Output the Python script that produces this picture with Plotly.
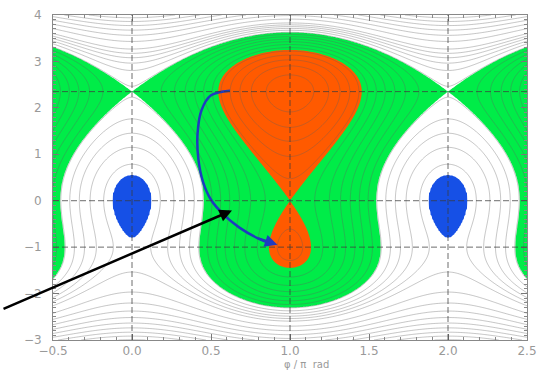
import numpy as np
import plotly.graph_objects as go

# ---- model parameters ----
Y_FIXED = [-1.0, 0.0, 2.35]      # momentum-like positions of fixed points
AMP = 5.5                        # potential amplitude
BLUE_LEVEL = 5.08                # boundary of blue island
BLUE_WINDOW = [-1.0, 1.5]        # y window containing the blue islands
X_RANGE = [-0.5, 2.5]
Y_RANGE = [-3.0, 4.0]
X_TICKS = [-0.5, 0.0, 0.5, 1.0, 1.5, 2.0, 2.5]
Y_TICKS = [-3, -2, -1, 0, 1, 2, 3, 4]
X_LINES = [0.0, 1.0, 2.0]
Y_LINES = [-1.0, 0.0, 2.35]

# blue trajectory (x, y)
PATH_X = [0.62, 0.50, 0.44, 0.415, 0.42, 0.45, 0.50, 0.58, 0.68, 0.79, 0.86, 0.92]
PATH_Y = [2.37, 2.27, 1.95, 1.45, 0.90, 0.40, 0.02, -0.30, -0.58, -0.80, -0.90, -0.95]

# black pointer arrow head (data) and tail offset (pixels)
POINTER_HEAD = [0.633, -0.21]
POINTER_TAIL_PX = [-230, 99]

ORANGE = "#FF5A00"
GREEN = "#00EC48"
BLUE = "#1650E6"
WHITE = "#FFFFFF"

# ---- Hamiltonian on grid ----
x = np.linspace(X_RANGE[0], X_RANGE[1], 301)
y = np.linspace(Y_RANGE[0], Y_RANGE[1], 351)
X, Y = np.meshgrid(x, y)

dK = np.poly(Y_FIXED)           # K'(y) coefficients
Kp = np.polyint(dK)
K = lambda v: np.polyval(Kp, v)
H = K(Y) + AMP * np.cos(np.pi * X)

L_OR = K(Y_FIXED[1]) - AMP       # separatrix through X-point (1, 0)
L_GR = K(Y_FIXED[2]) + AMP       # separatrix through X-point (0, 2.35)
inside = (Y > BLUE_WINDOW[0]) & (Y < BLUE_WINDOW[1])
H_fill = np.where(inside, H, np.minimum(H, L_GR + 1.0))
hmin, hmax = H.min(), H.max()
T = np.interp(H_fill, [hmin - 1, L_OR, L_GR, BLUE_LEVEL, hmax + 1], [0, 1, 2, 3, 4])

# line field: denser at low energies
G = np.where(H <= 5.5, H, 5.5 + (H - 5.5) / 2.5)

fig = go.Figure()
fig.add_trace(go.Contour(
    x=x, y=y, z=T, autocontour=False,
    contours=dict(start=1, end=3, size=1, coloring="fill", showlines=False),
    colorscale=[[0, ORANGE], [0.2, ORANGE], [0.2, GREEN], [0.5, GREEN],
                [0.5, WHITE], [0.8, WHITE], [0.8, BLUE], [1, BLUE]],
    showscale=False, line=dict(width=0), hoverinfo="skip"))
fig.add_trace(go.Contour(
    x=x, y=y, z=G, autocontour=False,
    contours=dict(start=-9.6, end=20, size=0.95, coloring="lines"),
    colorscale=[[0, "rgba(95,95,95,0.45)"], [1, "rgba(95,95,95,0.45)"]],
    line=dict(width=0.8), showscale=False, hoverinfo="skip"))

shapes = []
for xv in X_LINES:
    shapes.append(dict(type="line", xref="x", yref="paper", x0=xv, x1=xv, y0=0, y1=1,
                       line=dict(color="rgba(60,60,60,0.75)", width=1, dash="6px,3px")))
for yv in Y_LINES:
    shapes.append(dict(type="line", xref="paper", yref="y", x0=0, x1=1, y0=yv, y1=yv,
                       line=dict(color="rgba(60,60,60,0.75)", width=1, dash="6px,3px")))

fig.add_trace(go.Scatter(x=PATH_X[:-1], y=PATH_Y[:-1], mode="lines",
                         line=dict(color="#1E3CC0", width=2.5, shape="spline", smoothing=1.0),
                         hoverinfo="skip", showlegend=False))

annotations = [
    dict(x=PATH_X[-1], y=PATH_Y[-1], ax=PATH_X[-3], ay=PATH_Y[-3], xref="x", yref="y",
         axref="x", ayref="y", showarrow=True, arrowhead=2, arrowsize=1, arrowwidth=2.5,
         arrowcolor="#1E3CC0", text=""),
    dict(x=POINTER_HEAD[0], y=POINTER_HEAD[1], ax=POINTER_TAIL_PX[0], ay=POINTER_TAIL_PX[1],
         xref="x", yref="y", showarrow=True, arrowhead=2, arrowsize=1, arrowwidth=2.5,
         arrowcolor="black", text=""),
    dict(x=0.535, y=-0.074, xref="paper", yref="paper", showarrow=False,
         text="φ / π  rad", font=dict(size=10, color="#999999", family="DejaVu Sans"),
         yanchor="middle"),
]

axis_common = dict(showgrid=False, zeroline=False, showline=True, mirror="allticks",
                   linecolor="#888888", linewidth=1, ticks="inside", ticklen=6,
                   tickcolor="#777777",
                   tickfont=dict(size=12, color="#999999", family="DejaVu Sans"))

fig.update_layout(
    width=552, height=372, margin=dict(l=53, r=25, t=8, b=32),
    paper_bgcolor="white", plot_bgcolor="white", showlegend=False,
    shapes=shapes, annotations=annotations,
    xaxis=dict(range=X_RANGE, tickvals=X_TICKS, ticktext=[f"{v:.1f}".replace("-", "−") for v in X_TICKS],
               minor=dict(ticks="inside", ticklen=3, dtick=0.1, tickcolor="#888888"),
               ticklabelstandoff=0, **axis_common),
    yaxis=dict(range=Y_RANGE, tickvals=Y_TICKS, ticktext=[str(v).replace("-", "−") for v in Y_TICKS],
               minor=dict(ticks="inside", ticklen=3, dtick=0.1, tickcolor="#888888"),
               ticklabelstandoff=8, **axis_common),
)

fig.write_html("out.html")
